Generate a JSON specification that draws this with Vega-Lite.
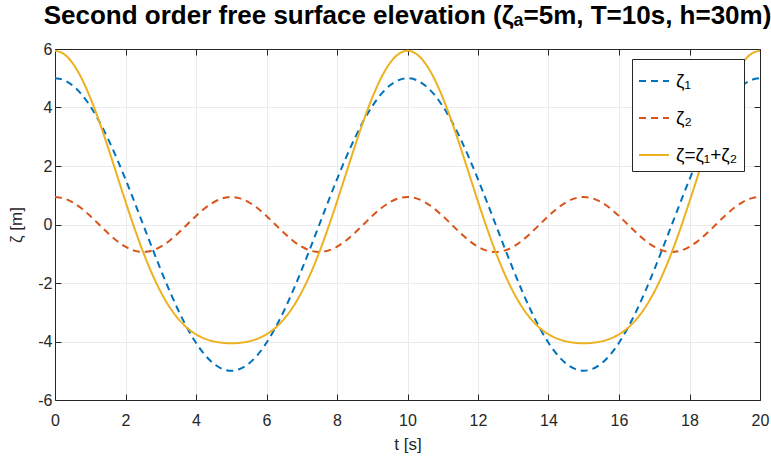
{
  "$schema": "https://vega.github.io/schema/vega-lite/v6.json",
  "width": 705,
  "height": 351,
  "autosize": {"type": "none"},
  "padding": {"left": 55, "top": 49, "right": 11, "bottom": 59},
  "background": "white",
  "config": {
    "font": "Liberation Sans",
    "view": {"stroke": "#262626", "strokeWidth": 1},
    "axis": {
      "labelFont": "Liberation Sans",
      "labelFontSize": 16,
      "labelColor": "#262626",
      "labelFlush": false,
      "labelExpr": "replace(datum.label, '−', '-')",
      "titleFont": "Liberation Sans",
      "titleFontSize": 17,
      "titleFontWeight": "normal",
      "titleColor": "#262626",
      "domainColor": "#262626",
      "tickColor": "#262626",
      "tickSize": -6,
      "gridColor": "#ebebeb",
      "gridOpacity": 1
    },
    "legend": {
      "labelFont": "Liberation Sans",
      "labelFontSize": 19,
      "labelColor": "#000000"
    }
  },
  "title": {
    "text": "Second order free surface elevation (ζₐ=5m, T=10s, h=30m)",
    "font": "Liberation Sans",
    "fontSize": 26,
    "fontWeight": "bold",
    "color": "#000000",
    "anchor": "middle",
    "offset": 12
  },
  "data": {
    "values": [
      {"t": 0, "z1": 5, "z2": 0.94, "z": 5.94},
      {"t": 0.25, "z1": 4.938, "z2": 0.894, "z": 5.832},
      {"t": 0.5, "z1": 4.755, "z2": 0.76, "z": 5.515},
      {"t": 0.75, "z1": 4.455, "z2": 0.553, "z": 5.008},
      {"t": 1, "z1": 4.045, "z2": 0.29, "z": 4.335},
      {"t": 1.25, "z1": 3.536, "z2": 0, "z": 3.536},
      {"t": 1.5, "z1": 2.939, "z2": -0.29, "z": 2.649},
      {"t": 1.75, "z1": 2.27, "z2": -0.553, "z": 1.717},
      {"t": 2, "z1": 1.545, "z2": -0.76, "z": 0.785},
      {"t": 2.25, "z1": 0.782, "z2": -0.894, "z": -0.112},
      {"t": 2.5, "z1": 0, "z2": -0.94, "z": -0.94},
      {"t": 2.75, "z1": -0.782, "z2": -0.894, "z": -1.676},
      {"t": 3, "z1": -1.545, "z2": -0.76, "z": -2.305},
      {"t": 3.25, "z1": -2.27, "z2": -0.553, "z": -2.823},
      {"t": 3.5, "z1": -2.939, "z2": -0.29, "z": -3.229},
      {"t": 3.75, "z1": -3.536, "z2": 0, "z": -3.536},
      {"t": 4, "z1": -4.045, "z2": 0.29, "z": -3.755},
      {"t": 4.25, "z1": -4.455, "z2": 0.553, "z": -3.902},
      {"t": 4.5, "z1": -4.755, "z2": 0.76, "z": -3.995},
      {"t": 4.75, "z1": -4.938, "z2": 0.894, "z": -4.044},
      {"t": 5, "z1": -5, "z2": 0.94, "z": -4.06},
      {"t": 5.25, "z1": -4.938, "z2": 0.894, "z": -4.044},
      {"t": 5.5, "z1": -4.755, "z2": 0.76, "z": -3.995},
      {"t": 5.75, "z1": -4.455, "z2": 0.553, "z": -3.902},
      {"t": 6, "z1": -4.045, "z2": 0.29, "z": -3.755},
      {"t": 6.25, "z1": -3.536, "z2": 0, "z": -3.536},
      {"t": 6.5, "z1": -2.939, "z2": -0.29, "z": -3.229},
      {"t": 6.75, "z1": -2.27, "z2": -0.553, "z": -2.823},
      {"t": 7, "z1": -1.545, "z2": -0.76, "z": -2.305},
      {"t": 7.25, "z1": -0.782, "z2": -0.894, "z": -1.676},
      {"t": 7.5, "z1": 0, "z2": -0.94, "z": -0.94},
      {"t": 7.75, "z1": 0.782, "z2": -0.894, "z": -0.112},
      {"t": 8, "z1": 1.545, "z2": -0.76, "z": 0.785},
      {"t": 8.25, "z1": 2.27, "z2": -0.553, "z": 1.717},
      {"t": 8.5, "z1": 2.939, "z2": -0.29, "z": 2.649},
      {"t": 8.75, "z1": 3.536, "z2": 0, "z": 3.536},
      {"t": 9, "z1": 4.045, "z2": 0.29, "z": 4.335},
      {"t": 9.25, "z1": 4.455, "z2": 0.553, "z": 5.008},
      {"t": 9.5, "z1": 4.755, "z2": 0.76, "z": 5.515},
      {"t": 9.75, "z1": 4.938, "z2": 0.894, "z": 5.832},
      {"t": 10, "z1": 5, "z2": 0.94, "z": 5.94},
      {"t": 10.25, "z1": 4.938, "z2": 0.894, "z": 5.832},
      {"t": 10.5, "z1": 4.755, "z2": 0.76, "z": 5.515},
      {"t": 10.75, "z1": 4.455, "z2": 0.553, "z": 5.008},
      {"t": 11, "z1": 4.045, "z2": 0.29, "z": 4.335},
      {"t": 11.25, "z1": 3.536, "z2": 0, "z": 3.536},
      {"t": 11.5, "z1": 2.939, "z2": -0.29, "z": 2.649},
      {"t": 11.75, "z1": 2.27, "z2": -0.553, "z": 1.717},
      {"t": 12, "z1": 1.545, "z2": -0.76, "z": 0.785},
      {"t": 12.25, "z1": 0.782, "z2": -0.894, "z": -0.112},
      {"t": 12.5, "z1": 0, "z2": -0.94, "z": -0.94},
      {"t": 12.75, "z1": -0.782, "z2": -0.894, "z": -1.676},
      {"t": 13, "z1": -1.545, "z2": -0.76, "z": -2.305},
      {"t": 13.25, "z1": -2.27, "z2": -0.553, "z": -2.823},
      {"t": 13.5, "z1": -2.939, "z2": -0.29, "z": -3.229},
      {"t": 13.75, "z1": -3.536, "z2": 0, "z": -3.536},
      {"t": 14, "z1": -4.045, "z2": 0.29, "z": -3.755},
      {"t": 14.25, "z1": -4.455, "z2": 0.553, "z": -3.902},
      {"t": 14.5, "z1": -4.755, "z2": 0.76, "z": -3.995},
      {"t": 14.75, "z1": -4.938, "z2": 0.894, "z": -4.044},
      {"t": 15, "z1": -5, "z2": 0.94, "z": -4.06},
      {"t": 15.25, "z1": -4.938, "z2": 0.894, "z": -4.044},
      {"t": 15.5, "z1": -4.755, "z2": 0.76, "z": -3.995},
      {"t": 15.75, "z1": -4.455, "z2": 0.553, "z": -3.902},
      {"t": 16, "z1": -4.045, "z2": 0.29, "z": -3.755},
      {"t": 16.25, "z1": -3.536, "z2": 0, "z": -3.536},
      {"t": 16.5, "z1": -2.939, "z2": -0.29, "z": -3.229},
      {"t": 16.75, "z1": -2.27, "z2": -0.553, "z": -2.823},
      {"t": 17, "z1": -1.545, "z2": -0.76, "z": -2.305},
      {"t": 17.25, "z1": -0.782, "z2": -0.894, "z": -1.676},
      {"t": 17.5, "z1": 0, "z2": -0.94, "z": -0.94},
      {"t": 17.75, "z1": 0.782, "z2": -0.894, "z": -0.112},
      {"t": 18, "z1": 1.545, "z2": -0.76, "z": 0.785},
      {"t": 18.25, "z1": 2.27, "z2": -0.553, "z": 1.717},
      {"t": 18.5, "z1": 2.939, "z2": -0.29, "z": 2.649},
      {"t": 18.75, "z1": 3.536, "z2": 0, "z": 3.536},
      {"t": 19, "z1": 4.045, "z2": 0.29, "z": 4.335},
      {"t": 19.25, "z1": 4.455, "z2": 0.553, "z": 5.008},
      {"t": 19.5, "z1": 4.755, "z2": 0.76, "z": 5.515},
      {"t": 19.75, "z1": 4.938, "z2": 0.894, "z": 5.832},
      {"t": 20, "z1": 5, "z2": 0.94, "z": 5.94}
    ]
  },
  "transform": [{"fold": ["z1", "z2", "z"], "as": ["series", "value"]}],
  "layer": [
    {
      "mark": {"type": "line", "strokeWidth": 2, "interpolate": "monotone", "clip": true},
      "encoding": {
        "x": {
          "field": "t", "type": "quantitative",
          "scale": {"domain": [0, 20], "nice": false},
          "axis": {"title": "t [s]", "values": [0,2,4,6,8,10,12,14,16,18,20], "labelPadding": 18, "titlePadding": 8}
        },
        "y": {
          "field": "value", "type": "quantitative",
          "scale": {"domain": [-6, 6], "nice": false},
          "axis": {"title": "ζ [m]", "values": [-6,-4,-2,0,2,4,6], "labelPadding": 9, "titlePadding": 12}
        },
        "color": {
          "field": "series", "type": "nominal",
          "scale": {"domain": ["z1", "z2", "z"], "range": ["#0072BD", "#D95319", "#EDB120"]},
          "legend": {
            "title": null,
            "orient": "none",
            "legendX": 577,
            "legendY": 10,
            "symbolType": "stroke",
            "symbolSize": 900,
            "symbolStrokeWidth": 2,
            "padding": 6,
            "rowPadding": 11,
            "labelOffset": 6,
            "strokeColor": "#262626",
            "fillColor": "white",
            "labelExpr": "datum.label == 'z1' ? 'ζ₁' : datum.label == 'z2' ? 'ζ₂' : 'ζ=ζ₁+ζ₂'"
          }
        },
        "strokeDash": {
          "field": "series", "type": "nominal",
          "scale": {"domain": ["z1", "z2", "z"], "range": [[7, 5], [7, 5], [1, 0]]},
          "legend": null
        }
      }
    },
    {
      "mark": {"type": "line", "opacity": 0},
      "encoding": {
        "x": {
          "field": "t", "type": "quantitative",
          "axis": {"orient": "top", "labels": false, "title": null, "grid": false, "values": [0,2,4,6,8,10,12,14,16,18,20]}
        },
        "y": {
          "field": "value", "type": "quantitative",
          "axis": {"orient": "right", "labels": false, "title": null, "grid": false, "values": [-6,-4,-2,0,2,4,6]}
        }
      }
    }
  ],
  "resolve": {"axis": {"x": "independent", "y": "independent"}}
}
